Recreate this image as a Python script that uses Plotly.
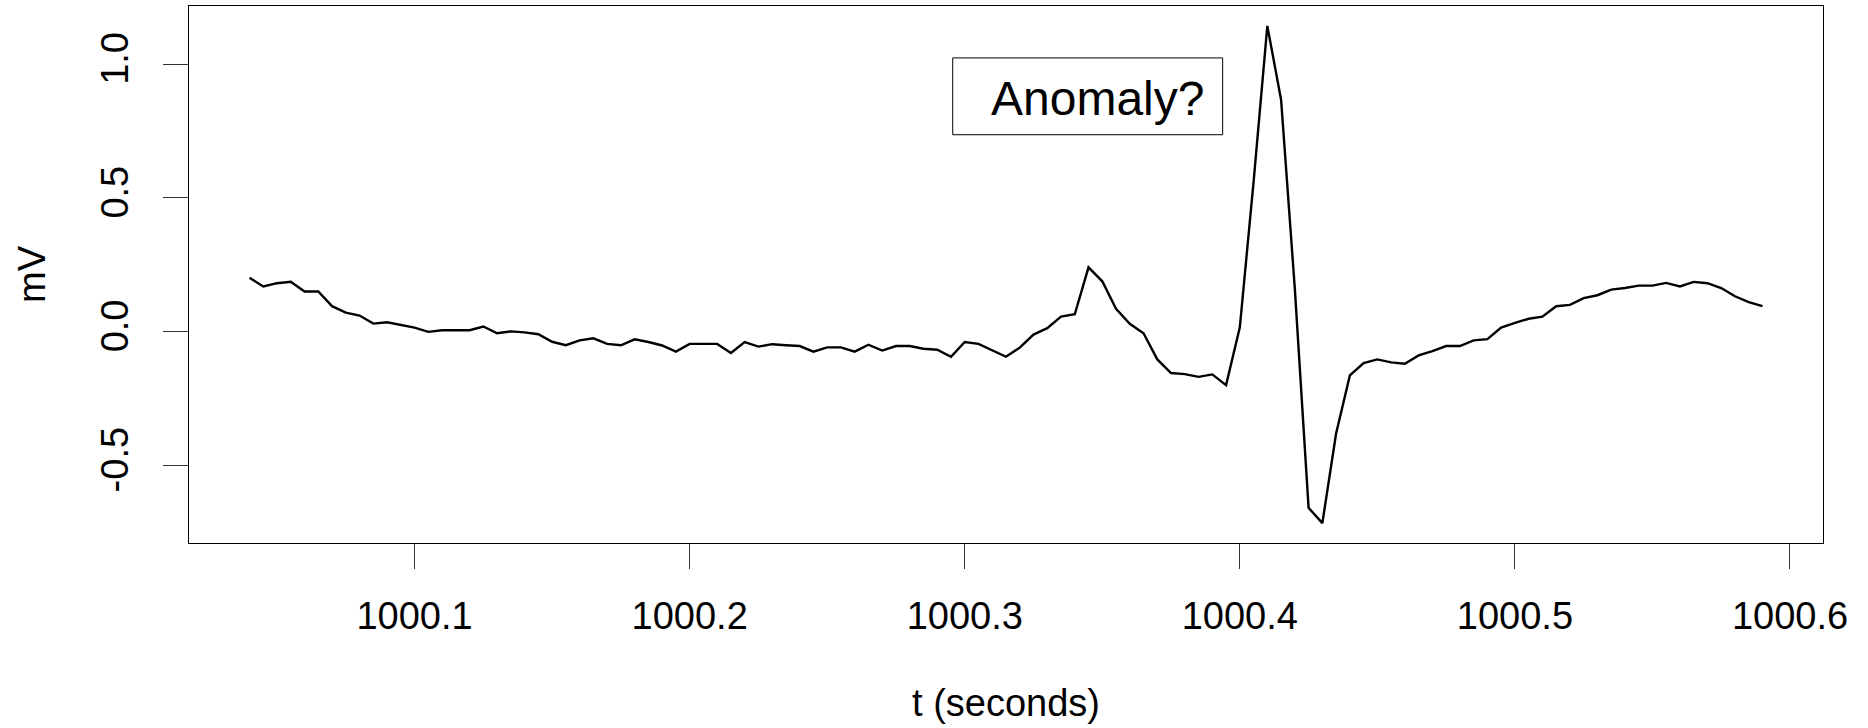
import numpy as np
import plotly.graph_objects as go

# ECG excerpt sampled at 200 Hz, starting at t = 1000.04 s
fs = 200
t_start = 1000.04
mv = [
    0.201, 0.169, 0.181, 0.186, 0.150, 0.150, 0.095, 0.071, 0.060, 0.030,
    0.035, 0.025, 0.015, -0.001, 0.005, 0.005, 0.005, 0.019, -0.006, 0.001,
    -0.003, -0.010, -0.038, -0.051, -0.033, -0.025, -0.046, -0.051, -0.029, -0.039,
    -0.052, -0.075, -0.046, -0.046, -0.046, -0.080, -0.039, -0.056, -0.047, -0.051,
    -0.054, -0.075, -0.059, -0.059, -0.075, -0.049, -0.071, -0.054, -0.054, -0.064,
    -0.068, -0.094, -0.039, -0.046, -0.069, -0.094, -0.060, -0.011, 0.013, 0.056,
    0.065, 0.240, 0.188, 0.085, 0.029, -0.006, -0.104, -0.155, -0.159, -0.169,
    -0.160, -0.200, 0.016, 0.560, 1.143, 0.867, 0.160, -0.659, -0.716, -0.381,
    -0.164, -0.118, -0.104, -0.115, -0.120, -0.089, -0.073, -0.054, -0.054, -0.033,
    -0.028, 0.015, 0.033, 0.048, 0.056, 0.095, 0.100, 0.125, 0.136, 0.157,
    0.163, 0.172, 0.172, 0.182, 0.169, 0.186, 0.181, 0.163, 0.132, 0.110,
    0.095,
]
t = t_start + np.arange(len(mv)) / fs

x_ticks = [1000.1, 1000.2, 1000.3, 1000.4, 1000.5, 1000.6]
x_tick_labels = ["1000.1", "1000.2", "1000.3", "1000.4", "1000.5", "1000.6"]
y_ticks = [-0.5, 0.0, 0.5, 1.0]
y_tick_labels = ["-0.5", "0.0", "0.5", "1.0"]
note = "Anomaly?"


def padded(lo, hi, frac=0.04):
    d = (hi - lo) * frac
    return [lo - d, hi + d]


FONT = "Liberation Sans, Arial, Helvetica, sans-serif"

fig = go.Figure()
fig.add_trace(go.Scatter(
    x=t, y=mv, mode="lines",
    line=dict(color="black", width=2.4),
    showlegend=False, hoverinfo="skip",
))

axis_common = dict(
    showline=True, mirror=True, linecolor="black", linewidth=1,
    ticks="outside", ticklen=25, tickcolor="#333333", tickwidth=1,
    showgrid=False, zeroline=False,
    tickfont=dict(family=FONT, size=38, color="black"),
)

fig.update_layout(
    width=1868, height=728,
    margin=dict(l=189, r=45, t=6, b=185),
    paper_bgcolor="white", plot_bgcolor="white",
    font=dict(family=FONT, color="black"),
    xaxis=dict(
        range=padded(float(t[0]), float(t[-1])),
        tickvals=x_ticks, ticktext=x_tick_labels,
        ticklabelstandoff=14,
        title=dict(text="t (seconds)", font=dict(family=FONT, size=38), standoff=53),
        **axis_common,
    ),
    yaxis=dict(
        range=padded(min(mv), max(mv)),
        tickvals=y_ticks, ticktext=y_tick_labels, tickangle=-90,
        ticklabelstandoff=20,
        title=dict(text="mV", font=dict(family=FONT, size=38), standoff=36),
        **axis_common,
    ),
)

# Boxed note above the spike
fig.add_shape(
    type="rect", xref="paper", yref="paper",
    x0=0.4674, x1=0.6326, y0=0.7603, y1=0.9033,
    line=dict(color="black", width=1), fillcolor="white",
)
fig.add_annotation(
    text=note, xref="paper", yref="paper", x=0.5560, y=0.828,
    showarrow=False, font=dict(family=FONT, size=48, color="black"),
    xanchor="center", yanchor="middle",
)

fig.write_html("out.html")
